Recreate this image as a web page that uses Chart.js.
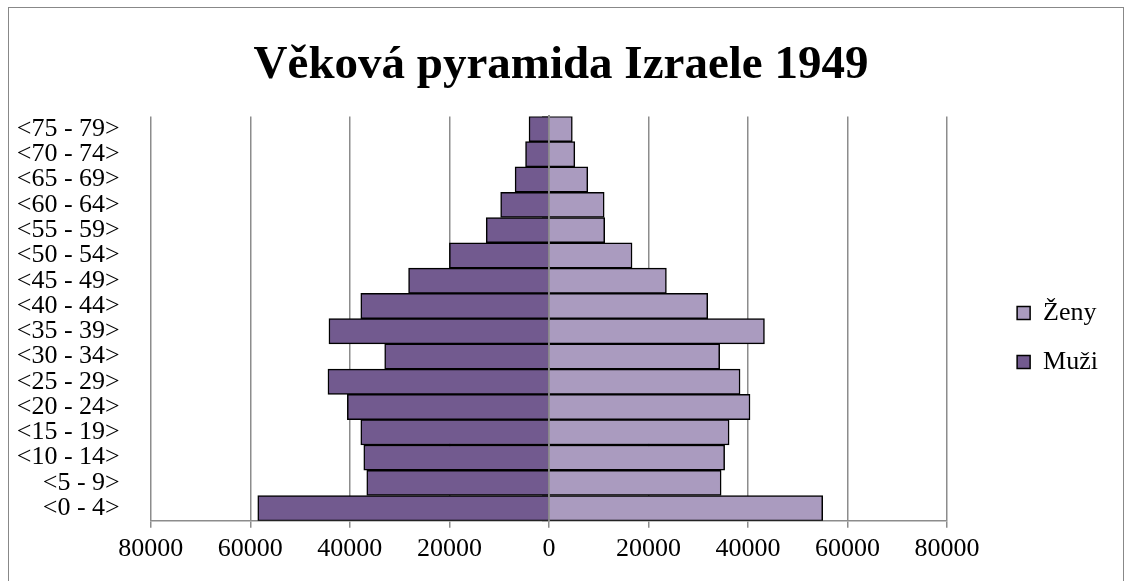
<!DOCTYPE html>
<html>
<head>
<meta charset="utf-8">
<script src="https://cdn.jsdelivr.net/npm/chart.js@4"></script>
<style>
  body { margin: 0; background: #fff; }
  #wrap { position: relative; width: 1124px; height: 581px; }
  #frame { position: absolute; left: 8px; top: 7px; width: 1114px; height: 590px; border: 1px solid #888; pointer-events: none; }
</style>
</head>
<body>
<div id="wrap">
  <canvas id="pyramid" width="1124" height="581"></canvas>
  <div id="frame"></div>
</div>
<script>
let ageGroups = ['<0 - 4>', '<5 - 9>', '<10 - 14>', '<15 - 19>', '<20 - 24>', '<25 - 29>', '<30 - 34>', '<35 - 39>',
    '<40 - 44>', '<45 - 49>', '<50 - 54>', '<55 - 59>', '<60 - 64>', '<65 - 69>', '<70 - 74>', '<75 - 79>'];
let men = [58500, 36600, 37200, 37800, 40500, 44400, 33000, 44200, 37800, 28200, 20000, 12600, 9700, 6800, 4700, 4000];
let women = [55000, 34600, 35300, 36200, 40400, 38400, 34300, 43300, 31900, 23600, 16700, 11200, 11100, 7800, 5200, 4700];
let xTicks = [-80000, -60000, -40000, -20000, 0, 20000, 40000, 60000, 80000];

const serif = 'Liberation Serif, Times New Roman, serif';
const gridGray = '#8c8c8c';


function getData() {
    let data = {
        labels: ageGroups,
        datasets: [
            {
                label: 'Muži',
                data: men.map(v => -v),
                backgroundColor: '#725a8f',
                borderColor: '#000',
                borderWidth: 1.5,
                barPercentage: 1,
                categoryPercentage: 1
            },
            {
                label: 'Ženy',
                data: women,
                backgroundColor: '#aa9bbf',
                borderColor: '#000',
                borderWidth: 1.5,
                barPercentage: 1,
                categoryPercentage: 1
            }
        ]
    };
    return data;
}


function getOptions() {
    let options = {
        indexAxis: 'y',
        responsive: false,
        animation: false,
        layout: {
            padding: { left: 14, right: 16, top: 0, bottom: 10 }
        },
        scales: {
            x: {
                stacked: true,
                min: xTicks[0],
                max: xTicks[xTicks.length - 1],
                afterBuildTicks: (scale) => {
                    scale.ticks = xTicks.map(v => ({ value: v }));
                },
                grid: { color: gridGray, lineWidth: 1.5, tickLength: 7, tickColor: gridGray },
                border: { color: gridGray, width: 1.5 },
                ticks: {
                    padding: 6,
                    color: '#000',
                    font: { family: serif, size: 26 },
                    callback: (v) => String(Math.abs(v))
                }
            },
            y: {
                stacked: true,
                reverse: true,
                position: 'left',
                grid: { display: false },
                border: { display: false },
                ticks: {
                    autoSkip: false,
                    padding: 23,
                    color: '#000',
                    font: { family: serif, size: 26 }
                }
            },
            yZero: {
                type: 'category',
                position: { x: 0 },
                reverse: true,
                z: 1,
                grid: { drawOnChartArea: false, drawTicks: true, tickLength: 6, color: gridGray, lineWidth: 1.5 },
                border: { color: gridGray, width: 2 },
                ticks: { display: false }
            },
            yGap: {
                type: 'category',
                position: 'right',
                grid: { display: false },
                border: { display: false },
                ticks: { display: false },
                afterFit: (scale) => { scale.width = 47; }
            }
        },
        plugins: {
            title: {
                display: true,
                text: 'Věková pyramida Izraele 1949',
                color: '#000',
                font: { family: serif, size: 47, weight: 'bold' },
                padding: { top: 38, bottom: 22 }
            },
            legend: {
                position: 'right',
                reverse: true,
                title: {
                    display: true,
                    text: ' ',
                    font: { size: 10 },
                    padding: { top: 92, bottom: 0 }
                },
                labels: {
                    color: '#000',
                    boxWidth: 13,
                    boxHeight: 13,
                    padding: 23,
                    font: { family: serif, size: 26 }
                }
            },
            tooltip: { enabled: false }
        }
    };
    return options;
}


const ctx = document.getElementById('pyramid');
new Chart(ctx, {
    type: 'bar',
    data: getData(),
    options: getOptions()
});
</script>
</body>
</html>
